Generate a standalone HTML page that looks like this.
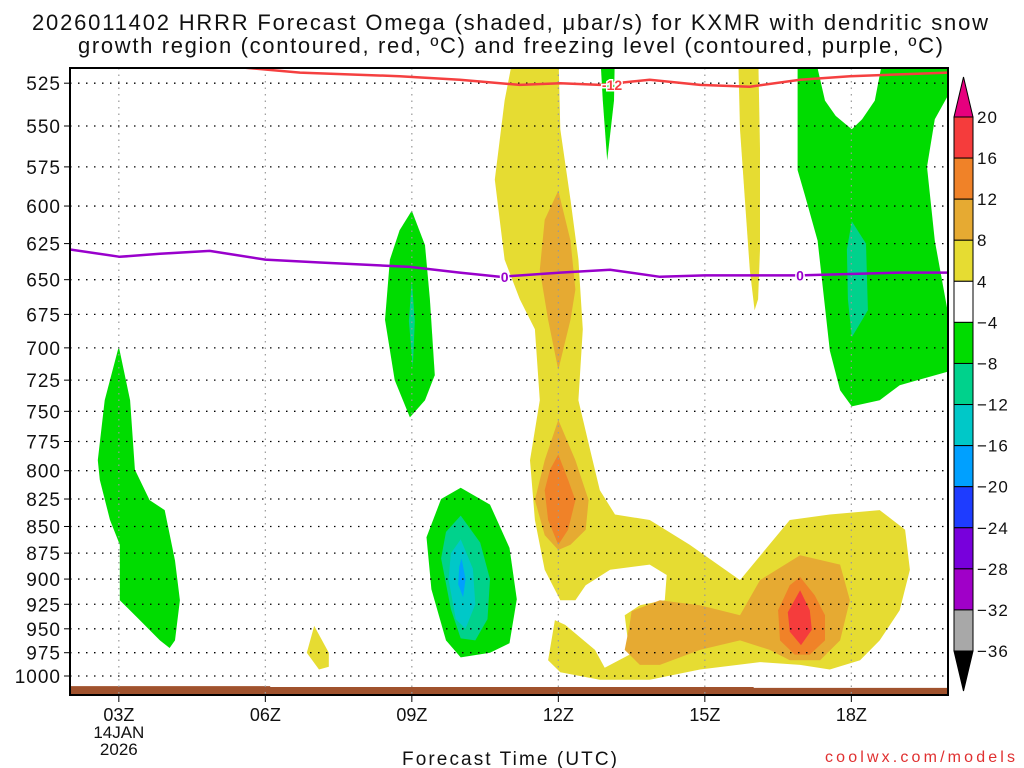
<!DOCTYPE html>
<html><head><meta charset="utf-8"><style>
html,body{margin:0;padding:0;background:#fff;}
svg{display:block;font-family:"Liberation Sans",sans-serif;}
</style></head><body>
<svg id="chart" width="1024" height="768" viewBox="0 0 1024 768" xmlns="http://www.w3.org/2000/svg">
<text x="32" y="30" font-size="22" textLength="956" lengthAdjust="spacing" fill="#111">2026011402 HRRR Forecast Omega (shaded, μbar/s) for KXMR with dendritic snow</text>
<text x="78" y="53" font-size="22" textLength="865" lengthAdjust="spacing" fill="#111">growth region (contoured, red, ºC) and freezing level (contoured, purple, ºC)</text>
<defs><clipPath id="plotclip"><rect x="70" y="68" width="878" height="627"/></clipPath></defs>
<g id="fills" clip-path="url(#plotclip)"></g>
<g id="grid"></g>
<g id="lines" clip-path="url(#plotclip)"></g>
<rect x="70" y="68" width="878" height="627" fill="none" stroke="#000" stroke-width="2"/>
<g id="axes"></g>
<g id="colorbar"></g>
<text x="402" y="765" font-size="19" textLength="215" lengthAdjust="spacing" fill="#111">Forecast Time (UTC)</text>
<text x="825" y="762" font-size="16" textLength="190" lengthAdjust="spacing" fill="#e03030">coolwx.com/models</text>
</svg>
<script>
// ---- data ----
const pressureTicks=[525,550,575,600,625,650,675,700,725,750,775,800,825,850,875,900,925,950,975,1000];
const hourTicks=[3,6,9,12,15,18];
const hourTickLabels=["03Z","06Z","09Z","12Z","15Z","18Z"];
const cbarLevels=[20,16,12,8,4,-4,-8,-12,-16,-20,-24,-28,-32,-36];
const cbarColors=["#f53c3c","#f08228","#e6aa32","#e6dc32","#ffffff","#00dc00","#00d28c","#00c8c8","#00a0ff","#1e3cff","#7800dc","#a000c8","#a8a8a8"];
// contour 0C freezing level
const frzHours=[2,3.02,3.84,4.86,6,7.12,8.96,9.98,10.8,12.04,13.06,14.08,15,16.13,16.95,17.97,18.99,20];
const frzPres=[629,634,632,630,636,638,641,645,648,645,643,648,647,647,647,646,645,645];
// contour -12C
const dgzHours=[5.48,6.71,8.75,9.98,11.21,12.04,12.85,13.87,14.9,15.92,16.95,17.97,18.99,19.98];
const dgzPres=[516,519,521,523,526,525,526,523,526,527,523,521,520,519];
// surface
const sfcHours=[2,6.1,6.1,16,16,20];
const sfcPres=[1011,1011,1012,1012,1013,1013];
// omega shaded regions
const yellowMainH=[11.11,10.9,10.7,10.9,11.21,11.52,11.62,11.42,11.52,11.72,12.04,12.35,12.56,13.06,13.87,14.22,14.18,13.67,13.36,13.46,12.95,12.75,12.14,11.93,11.79,12.04,12.85,13.87,14.9,16.13,16.95,17.56,18.18,18.58,18.99,19.2,19.1,18.58,17.56,16.74,15.72,14.69,13.87,13.16,12.85,12.65,12.41,12.5,12.41,12.25,12.04,12];
const yellowMainP=[505,535,583,636,664,686,741,791,844,891,921,921,906,891,886,896,921,926,936,977,991,972,946,941,983,996,1004,1004,993,985,988,993,983,962,931,891,853,835,839,844,901,867,844,839,817,782,741,686,636,596,552,505];
const orangeUpH=[12,12.25,12.35,12.25,12,11.79,11.62,11.72];
const orangeUpP=[590,623,657,679,717,679,643,609];
const orangeMidH=[12,12.35,12.62,12.56,12.25,12,11.72,11.52,11.72];
const orangeMidP=[757,791,826,853,867,872,858,826,791];
const orangeLowH=[13.5,14.08,14.9,15.72,16.13,16.95,17.77,17.97,17.77,17.36,16.74,16.33,15.72,14.9,14.08,13.67,13.36,13.46];
const orangeLowP=[932,921,926,936,901,877,886,921,962,983,983,972,962,972,988,988,972,946];
const dkOrangeMidH=[12,12.2,12.35,12.2,12,11.79,11.72,11.83];
const dkOrangeMidP=[786,808,826,853,867,844,817,799];
const dkOrangeLowH=[16.95,17.25,17.46,17.46,17.15,16.84,16.54,16.5,16.74];
const dkOrangeLowP=[898,916,936,962,977,977,962,931,906];
const redCoreH=[16.95,17.15,17.19,16.97,16.74,16.7];
const redCoreP=[911,931,951,967,953,933];
const yellow07H=[7,7.3,7.3,7.1,6.85];
const yellow07P=[947,975,990,993,975];
const yellow16H=[15.68,16.09,16.13,16.13,16.09,16.02,15.92,15.82,15.72];
const yellow16P=[505,505,564,629,664,672,643,596,552];
const green03H=[3,3.23,3.33,3.63,3.94,4.15,4.25,4.15,4.04,3.84,3.43,3.02,3.02,2.82,2.61,2.57,2.71];
const green03P=[699,741,799,826,835,882,921,962,970,962,941,921,867,844,808,791,741];
const green09H=[9,9.27,9.37,9.47,9.27,8.96,8.65,8.45,8.55,8.75];
const green09P=[603,626,664,721,741,755,725,679,636,616];
const teal09H=[9,9.06,9.02,8.94];
const teal09P=[650,680,715,680];
const green10H=[10,10.6,11,11.15,11,10.6,10,9.7,9.4,9.3,9.6];
const green10P=[815,830,870,920,965,975,980,962,910,860,825];
const teal10H=[10,10.4,10.6,10.55,10.3,10,9.8,9.6,9.7];
const teal10P=[840,865,900,940,962,960,930,880,855];
const cyan10H=[10,10.25,10.3,10.1,9.9,9.75,9.8];
const cyan10P=[862,890,925,950,940,900,875];
const blue10H=[10.02,10.1,10.05,9.95,9.97];
const blue10P=[880,900,918,905,888];
const green13H=[12.85,13.16,13.14,13,12.91];
const green13P=[505,505,535,571,535];
const green18H=[16.9,17.21,17.46,17.68,18.01,18.22,18.48,18.69,20.1,20.1,19.71,19.55,19.71,19.96,20.1,18.99,18.58,18.01,17.77,17.56,17.31,17.05,16.9];
const green18P=[505,505,535,544,552,546,535,505,505,526,546,575,623,670,717,729,741,746,733,702,623,593,577];
const teal18H=[18.01,18.3,18.34,18.01,17.93,17.91];
const teal18P=[610,625,672,692,664,629];

// ---- axes ----
const X0=70,X1=949,H0=2,H1=20;
const YB=676,K=920;
function xs(h){return X0+(h-H0)*(X1-X0)/(H1-H0);}
function ys(p){return YB+K*Math.log(p/1000);}
const NS="http://www.w3.org/2000/svg";
function mk(tag,attrs,parent){const e=document.createElementNS(NS,tag);for(const k in attrs)e.setAttribute(k,attrs[k]);parent.appendChild(e);return e;}
const fills=document.getElementById('fills');
function poly(H,P,color,name){
  const pts=H.map((h,i)=>xs(h).toFixed(1)+','+ys(P[i]).toFixed(1)).join(' ');
  const e=mk('polygon',{points:pts,fill:color},fills);
  
  
}
poly(yellowMainH,yellowMainP,"#e6dc32","omega-4-8-main");
poly(orangeUpH,orangeUpP,"#e6aa32","omega-8-12-upper");
poly(orangeMidH,orangeMidP,"#e6aa32","omega-8-12-mid");
poly(orangeLowH,orangeLowP,"#e6aa32","omega-8-12-low");
poly(dkOrangeMidH,dkOrangeMidP,"#f08228","omega-12-16-mid");
poly(dkOrangeLowH,dkOrangeLowP,"#f08228","omega-12-16-low");
poly(redCoreH,redCoreP,"#f53c3c","omega-16-20-core");
poly(yellow07H,yellow07P,"#e6dc32","omega-4-8-07z");
poly(yellow16H,yellow16P,"#e6dc32","omega-4-8-16z");
poly(green03H,green03P,"#00dc00","omega-neg4-03z");
poly(green09H,green09P,"#00dc00","omega-neg4-09z");
poly(teal09H,teal09P,"#00d28c","omega-neg8-09z");
poly(green10H,green10P,"#00dc00","omega-neg4-10z");
poly(teal10H,teal10P,"#00d28c","omega-neg8-10z");
poly(cyan10H,cyan10P,"#00c8c8","omega-neg12-10z");
poly(blue10H,blue10P,"#00a0ff","omega-neg16-10z");
poly(green13H,green13P,"#00dc00","omega-neg4-13z");
poly(green18H,green18P,"#00dc00","omega-neg4-18z");
poly(teal18H,teal18P,"#00d28c","omega-neg8-18z");
// ground
(function(){
  let pts=sfcHours.map((h,i)=>xs(h)+','+ys(sfcPres[i]).toFixed(1)).join(' ');
  pts+=' '+xs(20)+',700 '+xs(2)+',700';
  const e=mk('polygon',{points:pts,fill:"#a0522d"},fills);
  
  
})();

// grid
const grid=document.getElementById('grid');
pressureTicks.forEach(p=>{
  const e=mk('line',{x1:X0,x2:948,y1:ys(p),y2:ys(p),stroke:"#000","stroke-width":1.3,"stroke-dasharray":"1.5 6.5"},grid);
  
  
});
hourTicks.forEach(h=>{
  const e=mk('line',{x1:xs(h),x2:xs(h),y1:68,y2:695,stroke:"#999","stroke-width":1.2,"stroke-dasharray":"1.5 5"},grid);
  
  
});

// contour lines
const lines=document.getElementById('lines');
function pl(H,P,color,name){
  const pts=H.map((h,i)=>xs(h).toFixed(1)+','+ys(P[i]).toFixed(1)).join(' ');
  const e=mk('polyline',{points:pts,fill:"none",stroke:color,"stroke-width":2.5},lines);
  
  
}
pl(dgzHours,dgzPres,"#f54040","dgz-minus12-contour");
pl(frzHours,frzPres,"#9900cc","freezing-level-contour");
function clab(h,p,txt,color,name){
  const e=mk('text',{x:xs(h),y:ys(p)+5,"font-size":14,"font-weight":"bold","text-anchor":"middle",fill:color,stroke:"#fff","stroke-width":3,"paint-order":"stroke"},lines);
  e.textContent=txt;
  
  
}
clab(13.1,526,"-12","#f54040","dgz-contour-label");
clab(10.9,648,"0","#9900cc","freezing-contour-label-1");
clab(16.95,647,"0","#9900cc","freezing-contour-label-2");

// axes
const axes=document.getElementById('axes');
pressureTicks.forEach(p=>{
  const y=ys(p);
  let e=mk('line',{x1:64,x2:70,y1:y,y2:y,stroke:"#000","stroke-width":1},axes);
  
  
  e=mk('text',{x:61,y:y+7,"font-size":19,"text-anchor":"end",fill:"#111","letter-spacing":"1"},axes);
  e.textContent=p;
  
  
});
hourTicks.forEach((h,i)=>{
  const x=xs(h);
  let e=mk('line',{x1:x,x2:x,y1:695,y2:702,stroke:"#000","stroke-width":1},axes);
  
  
  e=mk('text',{x:x,y:721,"font-size":18,"text-anchor":"middle",fill:"#111"},axes);
  e.textContent=hourTickLabels[i];
  
  
});
(function(){
  let e=mk('text',{x:xs(3),y:738,"font-size":17,"text-anchor":"middle",fill:"#111"},axes);
  e.textContent="14JAN";
  
  
  e=mk('text',{x:xs(3),y:755,"font-size":17,"text-anchor":"middle",fill:"#111"},axes);
  e.textContent="2026";
  
  
})();

// colorbar
const cb=document.getElementById('colorbar');
const CBX=954,CBW=19,CBT=117,CBB=651;
const bh=(CBB-CBT)/cbarColors.length;
let tri=mk('polygon',{points:`${CBX},${CBT} ${CBX+CBW},${CBT} ${CBX+CBW/2},77`,fill:"#e6007e",stroke:"#000","stroke-width":1},cb);


cbarColors.forEach((c,i)=>{
  const e=mk('rect',{x:CBX,y:CBT+i*bh,width:CBW,height:bh,fill:c,stroke:"#000","stroke-width":1},cb);
  
  
});
tri=mk('polygon',{points:`${CBX},${CBB} ${CBX+CBW},${CBB} ${CBX+CBW/2},691`,fill:"#000",stroke:"#000","stroke-width":1},cb);


cbarLevels.forEach((v,i)=>{
  const e=mk('text',{x:977,y:CBT+i*bh+6,"font-size":17,fill:"#111","letter-spacing":"1"},cb);
  e.textContent=v<0?'\u2212'+Math.abs(v):String(v);
  
  
});
</script>
</body></html>
